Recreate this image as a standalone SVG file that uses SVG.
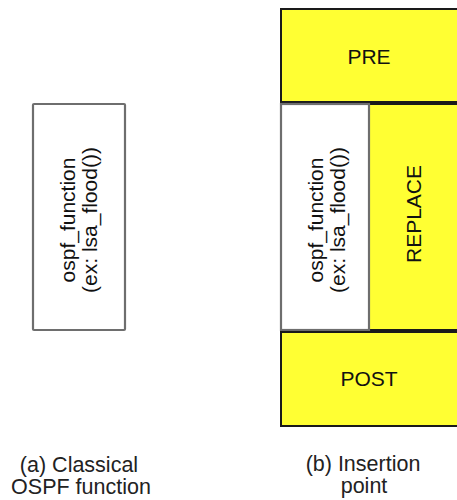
<svg xmlns="http://www.w3.org/2000/svg" width="457" height="500" viewBox="0 0 457 500">
  <style>
    .txt { font-family: "Liberation Sans", Arial, sans-serif; font-size: 21px; fill: #111; text-anchor: middle; }
    .cap { font-family: "Liberation Sans", Arial, sans-serif; font-size: 21.5px; fill: #222; text-anchor: middle; }
    .func { fill: #ffffff; stroke: #6e6e6e; stroke-width: 2.2; }
    .hook { fill: #ffff33; stroke: #1a1a1a; stroke-width: 2; }
  </style>

  <!-- (a) classical function -->
  <g id="classical-function">
    <rect class="func" x="33" y="104" width="92" height="226" rx="1"/>
    <text class="txt" transform="translate(75,220) rotate(-90)">ospf_function</text>
    <text class="txt" transform="translate(97,220) rotate(-90)">(ex: lsa_flood())</text>
  </g>

  <!-- (b) insertion points around the function -->
  <g id="pre">
    <rect class="hook" x="281" y="9" width="180" height="93"/>
    <text class="txt" x="369" y="64">PRE</text>
  </g>
  <g id="replace">
    <rect class="hook" x="369" y="104" width="92" height="226"/>
    <text class="txt" transform="translate(421,214) rotate(-90)">REPLACE</text>
  </g>
  <g id="inserted-function">
    <rect class="func" x="281" y="104" width="88" height="226"/>
    <text class="txt" transform="translate(323,220) rotate(-90)">ospf_function</text>
    <text class="txt" transform="translate(345,220) rotate(-90)">(ex: lsa_flood())</text>
  </g>
  <g id="post">
    <rect class="hook" x="281" y="332" width="180" height="94"/>
    <text class="txt" x="369" y="386">POST</text>
  </g>

  <g id="connectors"></g>

  <!-- captions -->
  <g id="caption-a">
    <text class="cap" x="79" y="472">(a) Classical</text>
    <text class="cap" x="81" y="494">OSPF function</text>
  </g>
  <g id="caption-b">
    <text class="cap" x="363" y="471">(b) Insertion</text>
    <text class="cap" x="364" y="493">point</text>
  </g>
</svg>
